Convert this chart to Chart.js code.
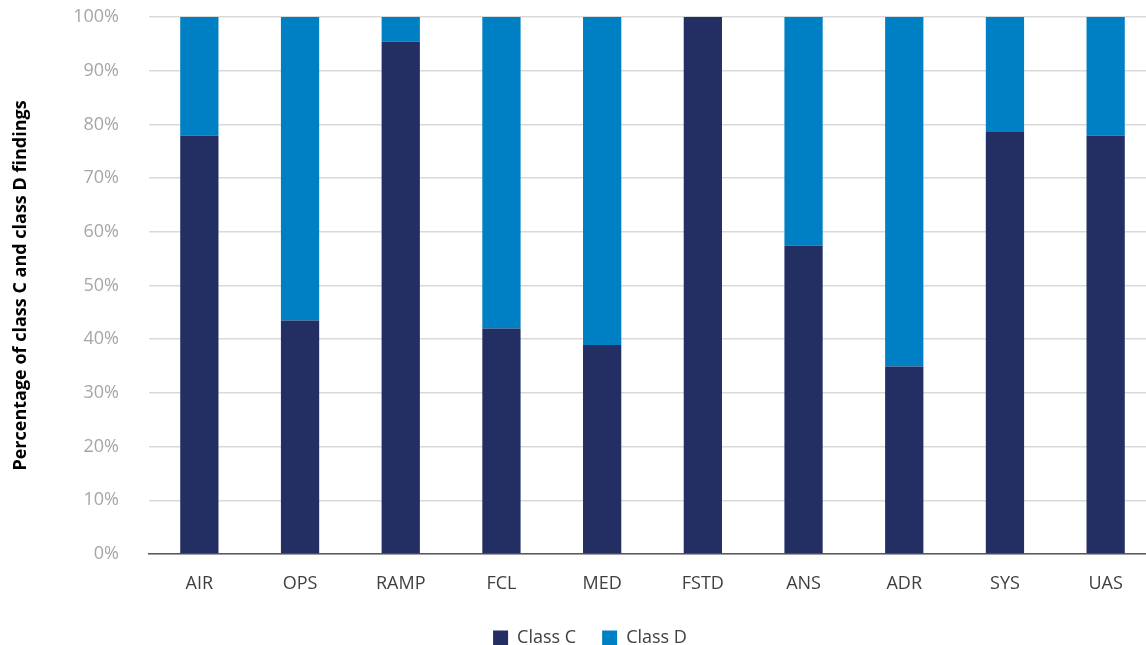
<!DOCTYPE html>
<html>
<head>
<meta charset="utf-8">
<script src="https://cdn.jsdelivr.net/npm/chart.js@4.4.1/dist/chart.umd.min.js"></script>
<style>
  body { margin: 0; background: #fff; overflow: hidden; }
  #wrap { width: 1156px; height: 657px; }
</style>
</head>
<body>
<div id="wrap"><canvas id="findings"></canvas></div>
<script>
const domains = ['AIR', 'OPS', 'RAMP', 'FCL', 'MED', 'FSTD', 'ANS', 'ADR', 'SYS', 'UAS'];
const classC = [77.9, 43.5, 95.4, 42.0, 38.9, 100, 57.4, 34.9, 78.6, 77.9];
const classD = [22.1, 56.5, 4.6, 58.0, 61.1, 0, 42.6, 65.1, 21.4, 22.1];
const yTicks = [0, 10, 20, 30, 40, 50, 60, 70, 80, 90, 100];

const navy = '#232e62';
const blue = '#0080c4';

// nudge the legend a bit to the right, it sits off-centre under the plot
const shiftLegend = {
  id: 'shiftLegend',
  afterLayout(chart) {
    chart.legend.left += 7;
    chart.legend.right += 7;
  }
};

new Chart(document.getElementById('findings'), {
  type: 'bar',
  data: {
    labels: domains,
    datasets: [
      { label: 'Class C', data: classC, backgroundColor: navy },
      { label: 'Class D', data: classD, backgroundColor: blue }
    ]
  },
  options: {
    responsive: true,
    maintainAspectRatio: false,
    animation: false,
    datasets: { bar: { barPercentage: 0.38, categoryPercentage: 1 } },
    layout: { padding: { top: 17, left: 10, right: 0, bottom: 0 } },
    scales: {
      x: {
        stacked: true,
        grid: { display: false, drawTicks: false },
        border: { color: '#595959', width: 1.5 },
        ticks: { color: '#404040', font: { family: 'Open Sans', size: 18 }, padding: 19 },
        afterFit(axis) { axis.height = 49; }
      },
      y: {
        stacked: true,
        min: 0,
        max: 100,
        afterBuildTicks(axis) { axis.ticks = yTicks.map(v => ({ value: v })); },
        // invisible tick marks give the gap between labels and plot
        grid: { color: '#d9d9d9', lineWidth: 1.5, drawTicks: true, tickLength: 30, tickColor: 'rgba(0,0,0,0)' },
        border: { display: false },
        ticks: {
          color: '#a6a6a6',
          font: { family: 'Open Sans', size: 18 },
          padding: 0,
          callback: v => v + '%'
        },
        title: {
          display: true,
          text: 'Percentage of class C and class D findings',
          color: '#000',
          font: { family: 'Open Sans', size: 18, weight: 'bold' },
          padding: 0
        },
        afterFit(axis) { axis.width = 139; }
      }
    },
    plugins: {
      legend: {
        position: 'bottom',
        labels: {
          boxWidth: 15,
          boxHeight: 15,
          padding: 26,
          color: '#404040',
          font: { family: 'Open Sans', size: 18 }
        }
      },
      tooltip: { enabled: false }
    }
  },
  plugins: [shiftLegend]
});
</script>
</body>
</html>
